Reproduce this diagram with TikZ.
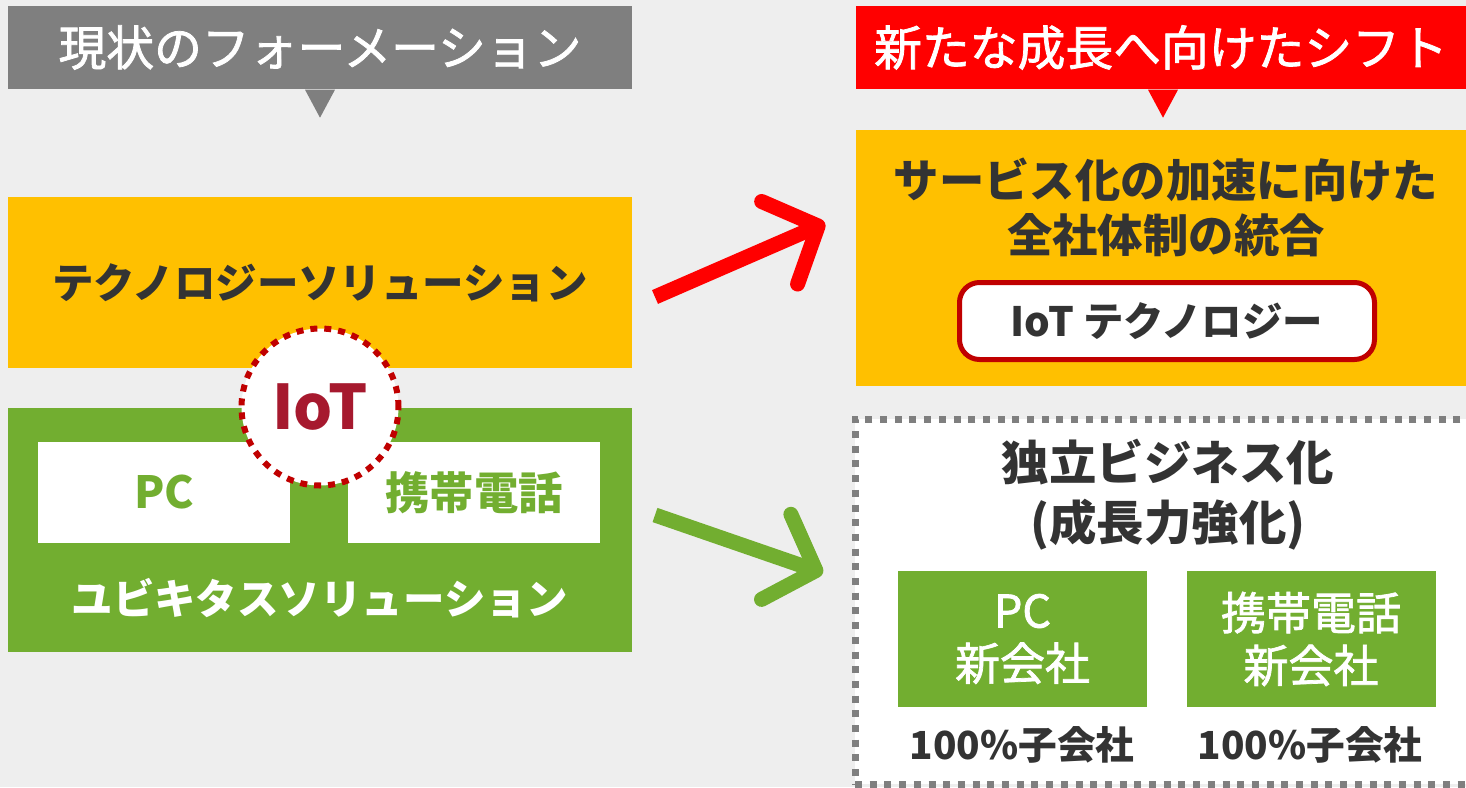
\documentclass[tikz,border=0pt]{standalone}
\usepackage{fontspec}
\setmainfont{Noto Sans CJK JP}
\newfontfamily\medfont[FakeBold=1.6]{Noto Sans CJK JP}
\usetikzlibrary{arrows.meta}

\definecolor{cgray}{HTML}{7F7F7F}
\definecolor{cred}{HTML}{FF0000}
\definecolor{cyellow}{HTML}{FFC000}
\definecolor{cgreen}{RGB}{114,174,48}
\definecolor{ctext}{HTML}{333333}
\definecolor{cdarkred}{HTML}{C00000}
\definecolor{ciot}{RGB}{166,25,46}
\definecolor{cbg}{HTML}{EEEEEE}

\tikzset{
  banner/.style={minimum height=0.83cm, inner sep=0pt, text=white,
    font=\fontsize{13.6pt}{16pt}\selectfont\medfont},
  solbox/.style={minimum width=6.24cm, inner sep=0pt,
    font=\fontsize{11.8pt}{14pt}\selectfont\bfseries},
  whitebox/.style={fill=white, minimum width=2.52cm, minimum height=1.01cm,
    inner sep=0pt, text=cgreen, font=\fontsize{12.6pt}{15pt}\selectfont\bfseries},
  iotcircle/.style={circle, draw=cdarkred, fill=white, line width=0.06cm,
    dash pattern=on 0.07cm off 0.07cm, minimum size=1.57cm, inner sep=0pt,
    text=ciot, font=\fontsize{17.5pt}{20pt}\selectfont\bfseries},
  iotbox/.style={draw=cdarkred, fill=white, line width=0.05cm, rounded corners=0.2cm,
    minimum width=4.15cm, minimum height=0.77cm, inner sep=0pt, text=ctext,
    font=\fontsize{11.5pt}{14pt}\selectfont\bfseries},
  dotbox/.style={draw=cgray, fill=white, line width=0.07cm,
    dash pattern=on 0.07cm off 0.077cm, minimum width=6.20cm, minimum height=3.65cm},
  gbox/.style={fill=cgreen, minimum width=2.49cm, minimum height=1.36cm, inner sep=0pt,
    align=center, text=white, font=\fontsize{12.8pt}{15pt}\selectfont\medfont},
  subtxt/.style={text=ctext, font=\fontsize{11pt}{14pt}\selectfont\bfseries},
  bigarrow/.style={line width=0.15cm, -{Straight Barb[round, length=0.42cm, width=0.9cm]}}
}

\begin{document}
\begin{tikzpicture}
\clip (0,0) rectangle (14.66,7.87);
\fill[cbg] (0,0) rectangle (14.66,7.87);

% headers
\node[banner, fill=cgray, minimum width=6.24cm] (P0) at (3.20,7.395) {現状のフォーメーション};
\node[banner, fill=cred, minimum width=6.10cm] (P1) at (11.61,7.395) {新たな成長へ向けたシフト};
\fill[cgray] (P0.south) ++(-0.15,0) -- ++(0.30,0) -- ++(-0.15,-0.28) -- cycle;
\fill[cred] (P1.south) ++(-0.13,0) -- ++(0.30,0) -- ++(-0.15,-0.28) -- cycle;

% now
\node[solbox, fill=cyellow, minimum height=1.71cm, text=ctext] (P2) at (3.20,5.045) {テクノロジーソリューション};
\node[solbox, fill=cgreen, minimum height=2.44cm] (P3) at (3.20,2.57) {};
\node[whitebox] (P4) at (1.64,2.945) {PC};
\node[whitebox] (P5) at (4.74,2.945) {携帯電話};
\node[solbox, text=white, minimum width=0pt] (P6) at (3.20,1.89) {ユビキタスソリューション};
\node[iotcircle] (P7) at (3.20,3.80) {IoT};

% shift
\node[solbox, fill=cyellow, minimum width=6.10cm, minimum height=2.56cm] (P8) at (11.61,5.29) {};
\node[align=center, text=ctext, font=\fontsize{12.9pt}{15.6pt}\selectfont\bfseries] (P9) at (11.66,5.795) {サービス化の加速に向けた\\全社体制の統合};
\node[iotbox] (P10) at (11.67,4.66) {IoT テクノロジー};

\node[dotbox] (P11) at (11.65,1.855) {};
\node[align=center, text=ctext, font=\fontsize{13.5pt}{17pt}\selectfont\bfseries] (P12) at (11.68,2.92) {独立ビジネス化\\(成長力強化)};
\node[gbox] (P13) at (10.225,1.48) {PC\\新会社};
\node[gbox] (P14) at (13.11,1.48) {携帯電話\\新会社};
\node[subtxt] (P15) at (10.22,0.42) {100\%子会社};
\node[subtxt] (P16) at (13.10,0.42) {100\%子会社};

% arrows
\coordinate (A0) at (6.55,4.90);
\coordinate (A1) at (8.25,5.64);
\coordinate (A2) at (6.55,2.72);
\coordinate (A3) at (8.23,2.14);
\path (A0) edge[bigarrow, draw=cred] (A1)
      (A2) edge[bigarrow, draw=cgreen] (A3);

\end{tikzpicture}
\end{document}
